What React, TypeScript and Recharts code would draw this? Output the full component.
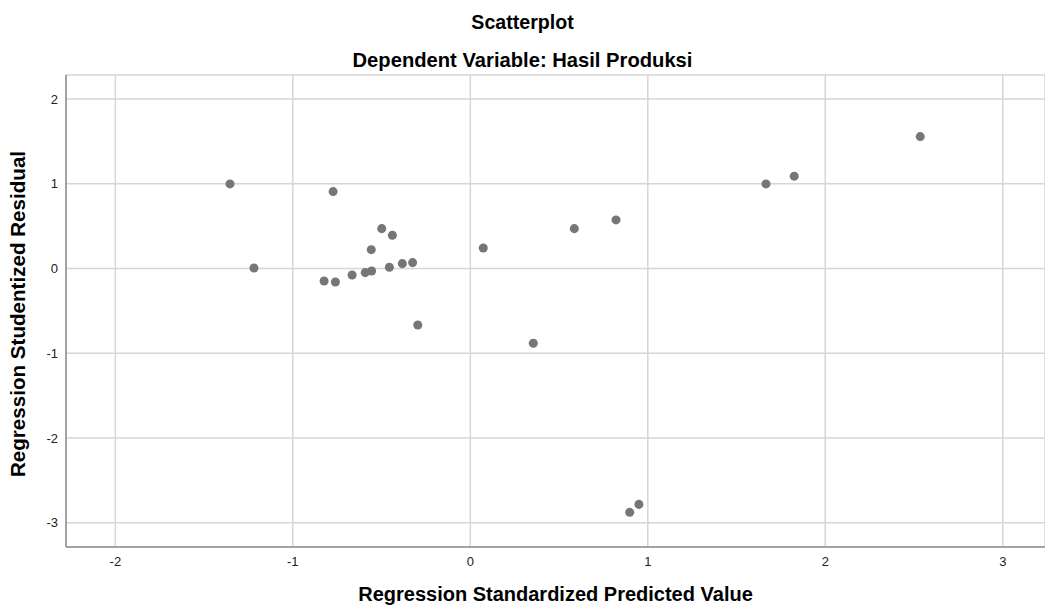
import React from "react";
import { ScatterChart, Scatter, XAxis, YAxis, ZAxis, CartesianGrid } from "recharts";

const predictedValues = [
  -1.354, -1.219, -0.773, -0.824, -0.760, -0.666, -0.592, -0.556, -0.558, -0.499,
  -0.439, -0.456, -0.383, -0.325, -0.296, 0.073, 0.355, 0.586, 0.821, 0.898,
  0.950, 1.666, 1.825, 2.535,
];
const residualValues = [
  0.998, 0.006, 0.907, -0.148, -0.159, -0.077, -0.049, -0.030, 0.222, 0.470,
  0.392, 0.014, 0.057, 0.069, -0.667, 0.242, -0.883, 0.470, 0.573, -2.878,
  -2.784, 0.998, 1.089, 1.556,
];
const xTicks = [-2, -1, 0, 1, 2, 3];
const yTicks = [-3, -2, -1, 0, 1, 2];

const title = "Scatterplot";
const subtitle = "Dependent Variable: Hasil Produksi";
const xTitle = "Regression Standardized Predicted Value";
const yTitle = "Regression Studentized Residual";

const points = predictedValues.map((x, i) => ({ x, y: residualValues[i] }));

const font = "Arial, 'Liberation Sans', sans-serif";

export default function App() {
  return (
    <div
      style={{
        position: "absolute",
        left: 0,
        top: 0,
        width: 1045,
        height: 608,
        background: "#fff",
        fontFamily: font,
        overflow: "hidden",
      }}
    >
      <ScatterChart
        width={1045}
        height={608}
        margin={{ top: 75, right: 0, bottom: 0, left: 0 }}
      >
        <CartesianGrid stroke="#d6d6d6" strokeWidth={1.5} />
        <XAxis
          type="number"
          dataKey="x"
          domain={[-2.278, 3.238]}
          ticks={xTicks}
          allowDataOverflow
          height={61}
          tickLine={false}
          tickSize={8}
          tickMargin={2}
          axisLine={{ stroke: "#8f8f8f", strokeWidth: 1.5 }}
          tick={{ fill: "#222", fontSize: 13, fontFamily: font }}
        />
        <YAxis
          type="number"
          dataKey="y"
          domain={[-3.287, 2.283]}
          ticks={yTicks}
          allowDataOverflow
          width={66}
          tickLine={false}
          tickSize={8}
          tickMargin={0}
          axisLine={{ stroke: "#8f8f8f", strokeWidth: 1.5 }}
          tick={{ fill: "#222", fontSize: 13, fontFamily: font }}
        />
        <ZAxis range={[80, 80]} />
        <Scatter data={points} fill="#767676" isAnimationActive={false} />
      </ScatterChart>
      <div
        style={{
          position: "absolute",
          left: 0,
          width: 1045,
          top: 11,
          textAlign: "center",
          fontWeight: "bold",
          fontSize: 19.6,
          lineHeight: "22px",
          color: "#000",
        }}
      >
        {title}
      </div>
      <div
        style={{
          position: "absolute",
          left: 0,
          width: 1045,
          top: 49,
          textAlign: "center",
          fontWeight: "bold",
          fontSize: 20.2,
          lineHeight: "22px",
          color: "#000",
        }}
      >
        {subtitle}
      </div>
      <div
        style={{
          position: "absolute",
          left: 66,
          width: 979,
          top: 583,
          textAlign: "center",
          fontWeight: "bold",
          fontSize: 20,
          lineHeight: "22px",
          color: "#000",
        }}
      >
        {xTitle}
      </div>
      <div
        style={{
          position: "absolute",
          left: 18,
          top: 314,
          width: 0,
          height: 0,
        }}
      >
        <div
          style={{
            position: "absolute",
            transform: "translate(-50%, -50%) rotate(-90deg)",
            whiteSpace: "nowrap",
            fontWeight: "bold",
            fontSize: 20.6,
            lineHeight: "22px",
            color: "#000",
          }}
        >
          {yTitle}
        </div>
      </div>
    </div>
  );
}
